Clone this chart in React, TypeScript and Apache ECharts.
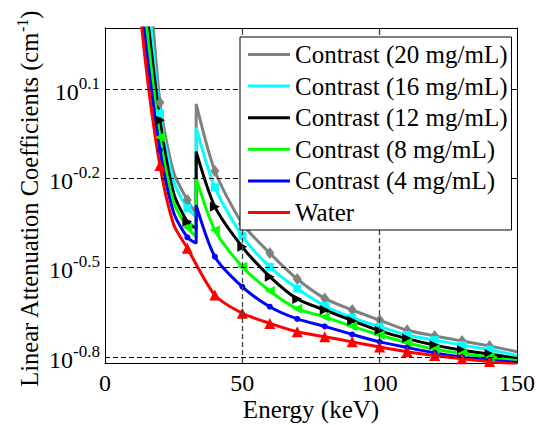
import React, { useEffect, useRef } from "react";
import * as echarts from "echarts";

const FONT = "Liberation Serif, Times New Roman, Times, serif";

// Energy samples (keV). Contrast curves carry the iodine K-edge at 33.2 keV.
const E_CONTRAST = [10, 15, 20, 25, 30, 33.2, 33.2, 40, 50, 60, 70, 80, 90, 100, 110, 120, 130, 140, 150];
const E_WATER = [10, 15, 20, 25, 30, 40, 50, 60, 70, 80, 90, 100, 110, 120, 130, 140, 150];
const MARKER_E = [20, 30, 40, 50, 60, 70, 80, 90, 100, 110, 120, 130, 140];

// log10 of linear attenuation coefficient (cm^-1)
const LOG_MU_20 = [0.95, 0.6, 0.055, -0.18, -0.273, -0.318, 0.05, -0.175, -0.352, -0.451, -0.538, -0.603, -0.642, -0.676, -0.71, -0.729, -0.746, -0.763, -0.782];
const LOG_MU_16 = [0.86, 0.47, 0.018, -0.21, -0.3, -0.329, -0.03, -0.23, -0.394, -0.497, -0.57, -0.628, -0.668, -0.698, -0.726, -0.743, -0.76, -0.775, -0.795];
const LOG_MU_12 = [0.78, 0.377, -0.005, -0.25, -0.346, -0.368, -0.11, -0.295, -0.43, -0.53, -0.605, -0.642, -0.678, -0.712, -0.738, -0.76, -0.777, -0.79, -0.805];
const LOG_MU_8 = [0.72, 0.32, -0.062, -0.28, -0.365, -0.396, -0.2, -0.374, -0.497, -0.578, -0.638, -0.665, -0.697, -0.726, -0.752, -0.774, -0.788, -0.801, -0.812];
const LOG_MU_4 = [0.66, 0.24, -0.105, -0.315, -0.398, -0.418, -0.29, -0.463, -0.564, -0.631, -0.672, -0.697, -0.724, -0.749, -0.768, -0.786, -0.8, -0.81, -0.818];
const LOG_MU_WATER = [0.62, 0.17, -0.157, -0.355, -0.435, -0.592, -0.653, -0.687, -0.715, -0.732, -0.749, -0.766, -0.782, -0.795, -0.806, -0.815, -0.824];

const SERIES_NAMES = [
  "Contrast (20 mg/mL)",
  "Contrast (16 mg/mL)",
  "Contrast (12 mg/mL)",
  "Contrast (8 mg/mL)",
  "Contrast (4 mg/mL)",
  "Water",
];

const Y_TICKS = [-0.8, -0.5, -0.2, 0.1];
const X_GRID = [50, 100];

const SERIES_DEF = [
  { name: SERIES_NAMES[0], e: E_CONTRAST, v: LOG_MU_20, color: "#808080", symbol: "diamond", size: [9, 12], rotate: 0 },
  { name: SERIES_NAMES[1], e: E_CONTRAST, v: LOG_MU_16, color: "#00ffff", symbol: "rect", size: 8, rotate: 0 },
  { name: SERIES_NAMES[2], e: E_CONTRAST, v: LOG_MU_12, color: "#000000", symbol: "triangle", size: 10, rotate: -90 },
  { name: SERIES_NAMES[3], e: E_CONTRAST, v: LOG_MU_8, color: "#00ff00", symbol: "triangle", size: 10, rotate: 90 },
  { name: SERIES_NAMES[4], e: E_CONTRAST, v: LOG_MU_4, color: "#0000ff", symbol: "circle", size: 6, rotate: 0 },
  { name: SERIES_NAMES[5], e: E_WATER, v: LOG_MU_WATER, color: "#ff0000", symbol: "triangle", size: 11, rotate: 0 },
];

export default function App() {
  const ref = useRef<HTMLDivElement>(null);

  useEffect(() => {
    if (!ref.current) return;
    const chart = echarts.init(ref.current, undefined, { renderer: "svg" });

    const lineSeries = SERIES_DEF.map((s) => ({
      type: "line",
      name: s.name,
      xAxisIndex: 0,
      yAxisIndex: 0,
      data: s.e.map((x, i) => {
        const item: any = { value: [x, s.v[i]] };
        if (!MARKER_E.includes(x)) item.symbol = "none";
        return item;
      }),
      smooth: 0.25,
      lineStyle: { color: s.color, width: 3 },
      itemStyle: { color: s.color },
      symbol: s.symbol,
      symbolSize: s.size,
      symbolRotate: s.rotate,
      showSymbol: true,
      showAllSymbol: true,
      clip: true,
      silent: true,
      z: 3,
    }));

    const gridSeries = {
      type: "line",
      name: "__grid",
      xAxisIndex: 0,
      yAxisIndex: 0,
      data: [],
      silent: true,
      z: 1,
      markLine: {
        silent: true,
        animation: false,
        symbol: ["none", "none"],
        label: { show: false },
        lineStyle: { color: "#000", type: [5, 3], width: 1 },
        data: [
          ...Y_TICKS.map((v) => ({ yAxis: v })),
          ...X_GRID.map((v) => ({ xAxis: v, lineStyle: { color: "#444", type: [5, 3], width: 1.3 } })),
        ],
      },
    };

    const fmt = (v: number) => Number(v).toFixed(1);

    const option: any = {
      animation: false,
      textStyle: { fontFamily: FONT },
      grid: { left: 105, right: 21, top: 28, bottom: 62, containLabel: false },
      legend: {
        data: SERIES_NAMES.map((n) => ({ name: n, icon: "rect" })),
        orient: "vertical",
        left: 240,
        top: 37,
        itemWidth: 42,
        itemHeight: 3,
        itemGap: 6.6,
        padding: [5, 4, 5, 8],
        backgroundColor: "#fff",
        borderColor: "#000",
        borderWidth: 1,
        borderRadius: 0,
        selectedMode: false,
        z: 10,
        textStyle: { fontFamily: FONT, fontSize: 25, color: "#000", lineHeight: 25 },
      },
      xAxis: [
        {
          type: "value",
          min: 0,
          max: 150,
          interval: 50,
          position: "bottom",
          axisLine: { show: true, onZero: false, lineStyle: { color: "#000", width: 1 } },
          axisTick: { show: true, inside: true, length: 5, lineStyle: { color: "#000" } },
          axisLabel: { show: true, fontFamily: FONT, fontSize: 24, color: "#000", margin: 8 },
          splitLine: { show: false },
        },
        {
          type: "value",
          min: 0,
          max: 150,
          interval: 50,
          position: "top",
          axisLine: { show: true, onZero: false, lineStyle: { color: "#000", width: 1 } },
          axisTick: { show: true, inside: true, length: 5, lineStyle: { color: "#000" } },
          axisLabel: { show: false },
          splitLine: { show: false },
        },
      ],
      yAxis: [
        {
          type: "value",
          min: -0.82,
          max: 0.305,
          position: "left",
          axisLine: { show: true, onZero: false, lineStyle: { color: "#000", width: 1 } },
          axisTick: { show: true, inside: true, length: 5, customValues: Y_TICKS, lineStyle: { color: "#000" } },
          axisLabel: {
            show: true,
            customValues: Y_TICKS,
            margin: 5,
            color: "#000",
            fontFamily: FONT,
            formatter: (v: number) => `{b|10}{s|${fmt(v)}}`,
            rich: {
              b: { fontFamily: FONT, fontSize: 24, color: "#000", verticalAlign: "bottom" },
              s: { fontFamily: FONT, fontSize: 17, color: "#000", verticalAlign: "bottom", padding: [0, 0, 12, 0] },
            },
          },
          splitLine: { show: false },
        },
        {
          type: "value",
          min: -0.82,
          max: 0.305,
          position: "right",
          axisLine: { show: true, onZero: false, lineStyle: { color: "#000", width: 1 } },
          axisTick: { show: true, inside: true, length: 5, customValues: Y_TICKS, lineStyle: { color: "#000" } },
          axisLabel: { show: false },
          splitLine: { show: false },
        },
      ],
      graphic: [
        {
          type: "text",
          x: 311,
          y: 409,
          silent: true,
          style: {
            text: "Energy (keV)",
            font: `25px ${FONT}`,
            fontFamily: FONT,
            fontSize: 25,
            fill: "#000",
            align: "center",
            verticalAlign: "middle",
          },
        },
        {
          type: "text",
          x: 28,
          y: 199,
          rotation: Math.PI / 2,
          silent: true,
          style: {
            text: "{a|Linear Attenuation Coefficients (cm}{s|-1}{a|)}",
            fontFamily: FONT,
            align: "center",
            verticalAlign: "middle",
            fill: "#000",
            rich: {
              a: { fontFamily: FONT, fontSize: 24.5, fill: "#000", verticalAlign: "bottom" },
              s: { fontFamily: FONT, fontSize: 16, fill: "#000", verticalAlign: "bottom", padding: [0, 0, 11, 0] },
            },
          },
        },
      ],
      series: [gridSeries, ...lineSeries],
    };

    chart.setOption(option);
    return () => chart.dispose();
  }, []);

  return (
    <div
      ref={ref}
      style={{ position: "fixed", left: 0, top: 0, width: 538, height: 425, background: "#fff" }}
    />
  );
}
